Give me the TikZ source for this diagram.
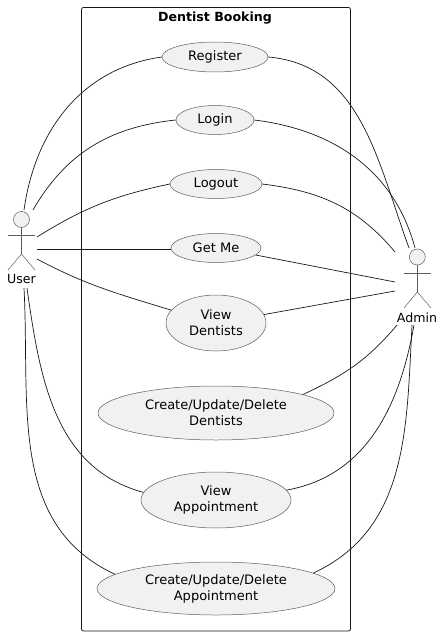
\documentclass[tikz,border=0pt]{standalone}
\usepackage{fontspec}
\setmainfont{DejaVu Sans}
\usetikzlibrary{shapes.geometric}
\definecolor{ucFill}{HTML}{F1F1F1}
\definecolor{ucLine}{HTML}{181818}
\tikzset{
	usecase/.style={ellipse,draw=ucLine!70,line width=0.5pt,fill=ucFill,inner sep=0pt,align=center,font=\fontsize{13}{16}\selectfont},
	actorline/.style={draw=ucLine!70,line width=0.5pt},
	assoc/.style={draw=ucLine,line width=0.7pt},
}
\begin{document}
\begin{tikzpicture}[x=1pt,y=-1pt]
	\useasboundingbox (0,0) rectangle (445,636);
	\draw[ucLine,line width=0.8pt,rounded corners=2pt] (81.5,7.5) rectangle (350.5,631);
	\node[font=\fontsize{12.6}{15}\selectfont\bfseries] (title) at (215,18) {Dentist Booking};
	%
	\node[usecase,minimum width=106pt,minimum height=30pt] (register) at (215,57) {Register};
	\node[usecase,minimum width=78pt,minimum height=29pt] (login) at (215,120) {Login};
	\node[usecase,minimum width=92pt,minimum height=29pt] (logout) at (216,184) {Logout};
	\node[usecase,minimum width=90pt,minimum height=29pt] (getme) at (216,248) {Get Me};
	\node[usecase,minimum width=100pt,minimum height=56pt] (viewdent) at (216,323) {View\\Dentists};
	\node[usecase,minimum width=236pt,minimum height=54pt] (cuddent) at (216,413) {Create/Update/Delete\\Dentists};
	\node[usecase,minimum width=150pt,minimum height=56pt] (viewappt) at (216,500) {View\\Appointment};
	\node[usecase,minimum width=238pt,minimum height=53pt] (cudappt) at (216,588.5) {Create/Update/Delete\\Appointment};
	%
	\node[circle,actorline,fill=ucFill,minimum size=16pt,inner sep=0pt] (userhead) at (21.5,219.5) {};
	\node[font=\fontsize{12.6}{15}\selectfont] (user) at (21.5,279) {User};
	\coordinate (userhip) at (21.5,254);
	\draw[actorline] (userhead) -- (userhip);
	\draw[actorline] (8,235) -- (35,235);
	\draw[actorline] (8,270) -- (userhip) -- (35,270);
	%
	\node[circle,actorline,fill=ucFill,minimum size=16pt,inner sep=0pt] (adminhead) at (417.3,257) {};
	\node[font=\fontsize{12.6}{15}\selectfont] (admin) at (417,318) {Admin};
	\coordinate (adminhip) at (417.3,292);
	\draw[actorline] (adminhead) -- (adminhip);
	\draw[actorline] (404,273) -- (431,273);
	\draw[actorline] (404,308) -- (adminhip) -- (431,308);
	%
	\coordinate (u1) at (24,210);
	\coordinate (u2) at (33,210);
	\coordinate (u3) at (37,237);
	\coordinate (u4) at (37,249);
	\coordinate (u5) at (37,259);
	\coordinate (u6) at (27,288);
	\coordinate (u7) at (24,288);
	%
	\coordinate (a1) at (409,248);
	\coordinate (a2) at (415,248);
	\coordinate (a3) at (395,252);
	\coordinate (a4) at (395,282);
	\coordinate (a5) at (395,291);
	\coordinate (a6) at (397,325);
	\coordinate (a7) at (414,325);
	\coordinate (a8) at (412,325);
	%
	\draw[assoc] (u1) to[out=82,in=188] (register.west);
	\draw[assoc] (u2) to[out=60,in=186] (login.west);
	\draw[assoc] (u3) to[out=32,in=192] (logout.west);
	\draw[assoc] (u4) -- (getme.west |- u4);
	\draw[assoc] (u5) to[out=-28,in=163] (viewdent.164);
	\draw[assoc] (u6) to[out=-82,in=165] (viewappt.174);
	\draw[assoc] (u7) to[out=-87,in=155] (cudappt.172);
	%
	\draw[assoc] (register.east) to[out=-5,in=110] (a1);
	\draw[assoc] (login.east) to[out=-7,in=105] (a2);
	\draw[assoc] (logout.east) to[out=-7,in=130] (a3);
	\draw[assoc] (getme.-10) -- (a4);
	\draw[assoc] (viewdent.10) -- (a5);
	\draw[assoc] (cuddent.12) to[out=25,in=-130] (a6);
	\draw[assoc] (viewappt.8) to[out=10,in=-100] (a7);
	\draw[assoc] (cudappt.9) to[out=25,in=-93] (a8);
\end{tikzpicture}
\end{document}
